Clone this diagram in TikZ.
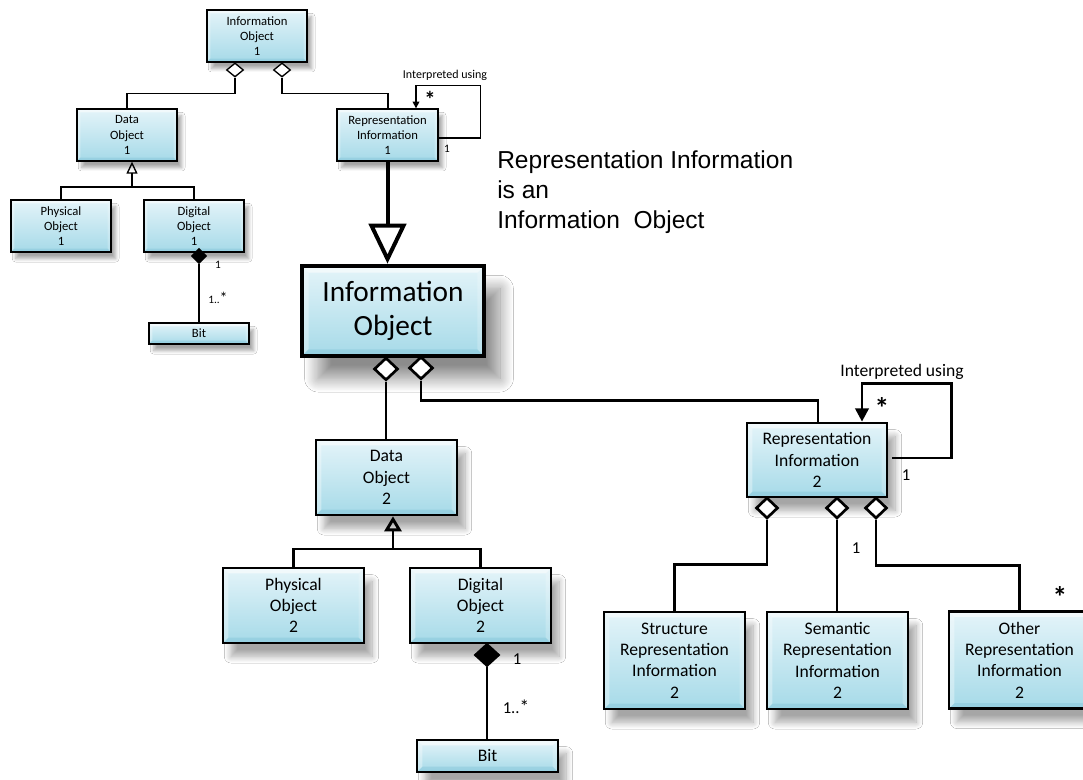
\documentclass[tikz,border=0pt]{standalone}
\usepackage{fontspec}
\setmainfont{Carlito}
\newfontfamily\arialf{Liberation Sans}
\usetikzlibrary{shapes.geometric,arrows.meta,calc,shadows.blur}
\definecolor{boxtop}{RGB}{228,244,249}
\definecolor{boxbot}{RGB}{166,218,232}
\definecolor{bevdark}{RGB}{120,190,212}
\tikzset{
  bevel/.style={path picture={
    \path (path picture bounding box.north west) coordinate (bNW)
          (path picture bounding box.north east) coordinate (bNE)
          (path picture bounding box.south west) coordinate (bSW)
          (path picture bounding box.south east) coordinate (bSE);
    \fill[white,opacity=0.55] (bNW) -- (bNE) -- ([shift={(-#1,-#1)}]bNE) -- ([shift={(#1,-#1)}]bNW) -- cycle;
    \fill[white,opacity=0.35] (bNW) -- (bSW) -- ([shift={(#1,#1)}]bSW) -- ([shift={(#1,-#1)}]bNW) -- cycle;
    \fill[bevdark,opacity=0.35] (bSW) -- (bSE) -- ([shift={(-#1,#1)}]bSE) -- ([shift={(#1,#1)}]bSW) -- cycle;
    \fill[white,opacity=0.2] (bNE) -- (bSE) -- ([shift={(-#1,#1)}]bSE) -- ([shift={(-#1,-#1)}]bNE) -- cycle;
  }},
  boxs/.style={draw,line width=1pt,top color=boxtop,bottom color=boxbot,
    minimum width=75pt,minimum height=39pt,inner sep=0pt,align=center,
    font=\fontsize{9.5}{11.5}\selectfont,bevel=2.5pt,
    blur shadow={shadow xshift=3.5pt,shadow yshift=-5pt,shadow blur radius=2.5pt,shadow blur steps=10,shadow opacity=35}},
  boxl/.style={draw,line width=2pt,top color=boxtop,bottom color=boxbot,
    minimum width=105.75pt,minimum height=56.25pt,inner sep=0pt,align=center,
    font=\fontsize{13.2}{16}\selectfont,bevel=4pt,
    blur shadow={shadow xshift=6pt,shadow yshift=-10pt,shadow blur radius=5pt,shadow blur steps=14,shadow opacity=35}},
  boxbig/.style={draw,line width=3.5pt,top color=boxtop,bottom color=boxbot,
    minimum width=136.5pt,minimum height=67.5pt,inner sep=0pt,align=center,
    font=\fontsize{22}{26}\selectfont,bevel=5pt,
    blur shadow={shadow xshift=12pt,shadow yshift=-17pt,shadow blur radius=10pt,shadow blur steps=20,shadow opacity=45}},
  odiaS/.style={diamond,draw,fill=white,line width=1pt,minimum width=12.75pt,minimum height=10.5pt,inner sep=0pt},
  fdiaS/.style={diamond,draw,fill=black,line width=1pt,minimum width=11.25pt,minimum height=11.25pt,inner sep=0pt},
  odiaL/.style={diamond,draw,fill=white,line width=2pt,minimum width=18pt,minimum height=17pt,inner sep=0pt},
  fdiaL/.style={diamond,draw,fill=black,line width=2pt,minimum width=18pt,minimum height=16.5pt,inner sep=0pt},
  lns/.style={line width=1pt},
  lnl/.style={line width=2.2pt},
  lbls/.style={font=\fontsize{8.5}{10}\selectfont,inner sep=0pt},
  lbll/.style={font=\fontsize{12.5}{15}\selectfont,inner sep=0pt},
  stars/.style={font=\bfseries\fontsize{17}{17}\selectfont,inner sep=0pt,anchor=north},
  starl/.style={font=\bfseries\fontsize{22}{22}\selectfont,inner sep=0pt,anchor=north},
}
\begin{document}
\begin{tikzpicture}[x=0.75pt,y=-0.75pt]
\useasboundingbox (0,0) rectangle (1083,780);
\fill[white] (0,0) rectangle (1083,780);
\clip (0,0) rectangle (1083,780);

% ---------- small diagram ----------
\node[boxs] (io1) at (257,36) {Information\\Object\\1};
\node[boxs] (do1) at (127,135) {Data\\Object\\1};
\node[boxs,minimum width=75.75pt] (ri1) at (387.5,135) {Representation\\Information\\1};
\node[boxs] (po1) at (61,226) {Physical\\Object\\1};
\node[boxs] (dg1) at (194,226) {Digital\\Object\\1};
\node[boxs,minimum height=15.75pt] (bit1) at (199,333.5) {Bit};

\node[odiaS] (od1a) at (235,70) {};
\node[odiaS] (od1b) at (282,70) {};
\draw[lns] (od1a.south) |- ($(do1.north)+(0,-15)$) -- (do1.north);
\draw[lns] (od1b.south) |- ($(ri1.north)+(0.5,-15)$) -- ($(ri1.north)+(0.5,0)$);

\coordinate (g1) at (132,187);
\draw[lns,-{Triangle[open,length=9pt,width=8.25pt]}] (g1) -- (g1 |- do1.south);
\draw[lns] (po1.north) |- (dg1.north |- g1) -- (dg1.north);

\node[fdiaS] (fd1) at (199,256) {};
\draw[lns] (fd1.south) -- (fd1.south |- bit1.north);
\node[lbls] (m1a) at (218,265) {1};
\node[lbls] (m1b) at (218,298) {1..{\large*}};

\draw[lns,-{Triangle[length=5pt,width=5pt]}] ([yshift=-2.25pt]ri1.east) -- ++(42,0)
   |- ($(ri1.north)+(28.5,-23)$) -- ($(ri1.north)+(28.5,0)$);
\node[lbls,font=\fontsize{9}{10}\selectfont] (int1) at (445,75) {Interpreted using};
\node[stars] (st1) at (430,91) {*};
\node[lbls] (one1) at (447,149) {1};

\node[boxbig] (bigio) at (393,311) {Information\\Object};
\draw[line width=3pt,-{Triangle[open,length=30pt,width=28pt]}] (ri1.south) -- (ri1.south |- bigio.north);

\node[font=\arialf\fontsize{18.4}{22.5}\selectfont,align=left,anchor=west,inner sep=0pt] (note) at (497,192)
  {Representation Information\\is an\\Information\ \ Object};

% ---------- large diagram ----------
\node[boxl] (do2) at (386.5,477.5) {Data\\Object\\2};
\node[boxl] (po2) at (293.5,605.5) {Physical\\Object\\2};
\node[boxl] (dg2) at (480.5,605.5) {Digital\\Object\\2};
\node[boxl,minimum height=24pt] (bit2) at (487.5,756) {Bit};
\node[boxl,minimum width=105pt,minimum height=55.5pt] (ri2) at (817,460) {Representation\\Information\\2};
\node[boxl,minimum height=72.75pt] (sr2) at (674.5,660.5) {Structure\\Representation\\Information\\2};
\node[boxl,minimum height=72.75pt] (se2) at (837.5,660.5) {Semantic\\Representation\\Information\\2};
\node[boxl,minimum height=72.75pt] (ot2) at (1019.5,660) {Other\\Representation\\Information\\2};

\node[odiaL] (odA) at (386,369) {};
\node[odiaL] (odB) at (421,368) {};
\draw[lnl] (odA.south) -- (odA.south |- do2.north);
\draw[lnl] (odB.south) |- ($(ri2.north)+(1,-21)$) -- ($(ri2.north)+(1,0)$);

\coordinate (g2) at (393,549);
\draw[lnl,-{Triangle[open,length=11.25pt,width=12.75pt]}] (g2) -- (g2 |- do2.south);
\draw[lnl] (po2.north) |- (dg2.north |- g2) -- (dg2.north);

\node[fdiaL] (fd2) at (487,655) {};
\draw[lnl] (fd2.south) -- (fd2.south |- bit2.north);
\node[lbll] (m2a) at (517,659) {1};
\node[lbll] (m2b) at (516,707) {1..{\Large*}};

\draw[lnl,-{Triangle[length=10pt,width=10pt]}] ([yshift=1.5pt,xshift=3pt]ri2.east) -- ++(59,0)
   |- ($(ri2.north)+(45,-38)$) -- ($(ri2.north)+(45,0)$);
\node[lbll,font=\fontsize{13.2}{15}\selectfont] (int2) at (902,372) {Interpreted using};
\node[starl] (st2) at (882,397) {*};
\node[lbll] (one2) at (906,475) {1};

\node[odiaL,minimum width=16.5pt,minimum height=15.75pt] (odC) at (767,508) {};
\node[odiaL,minimum width=16.5pt,minimum height=15.75pt] (odD) at (837,508) {};
\node[odiaL,minimum width=16.5pt,minimum height=15.75pt] (odE) at (876,508) {};
\draw[lnl] (odC.south) |- ($(sr2.north)+(0,-46)$) -- (sr2.north);
\draw[lnl] (odD.south) -- (odD.south |- se2.north);
\draw[lnl] (odE.south) |- ($(ot2.north)+(0,-45)$) -- (ot2.north);
\node[lbll] (one3) at (856,548) {1};
\node[starl] (st3) at (1060,586) {*};
\end{tikzpicture}
\end{document}
